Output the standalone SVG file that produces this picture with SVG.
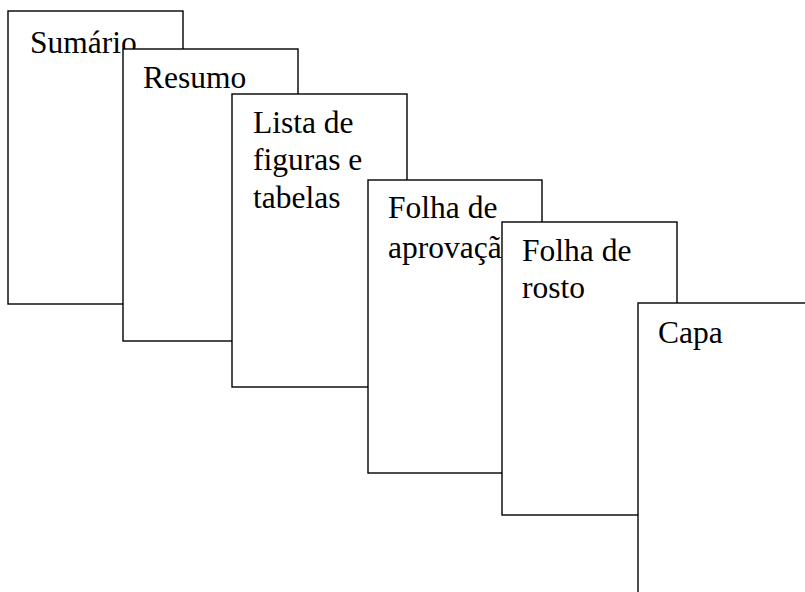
<svg xmlns="http://www.w3.org/2000/svg" width="805" height="592" viewBox="0 0 805 592">
<style>
.page{fill:#fff;stroke:#000;stroke-width:1.4}
.t{font-family:"Liberation Serif","Times New Roman",serif;font-size:31.5px;fill:#000}
</style>
<rect width="805" height="592" fill="#fff"/>
<g id="sumario"><rect class="page" x="8" y="11" width="175" height="293"/><text class="t" x="30" y="53">Sumário</text></g>
<g id="resumo"><rect class="page" x="123" y="49" width="175" height="292"/><text class="t" x="143" y="88">Resumo</text></g>
<g id="lista"><rect class="page" x="232" y="94" width="175" height="293"/><text class="t" x="253" y="133">Lista de</text><text class="t" x="253" y="170">figuras e</text><text class="t" x="253" y="208">tabelas</text></g>
<g id="aprovacao"><rect class="page" x="368" y="180" width="174" height="293"/><text class="t" x="388" y="218">Folha de</text><text class="t" x="388" y="258">aprovação</text></g>
<g id="rosto"><rect class="page" x="502" y="222" width="175" height="293"/><text class="t" x="522" y="261">Folha de</text><text class="t" x="522" y="298">rosto</text></g>
<g id="capa"><rect class="page" x="638" y="303" width="200" height="320"/><text class="t" x="658" y="343">Capa</text></g>
<g id="connectors"></g>
</svg>
